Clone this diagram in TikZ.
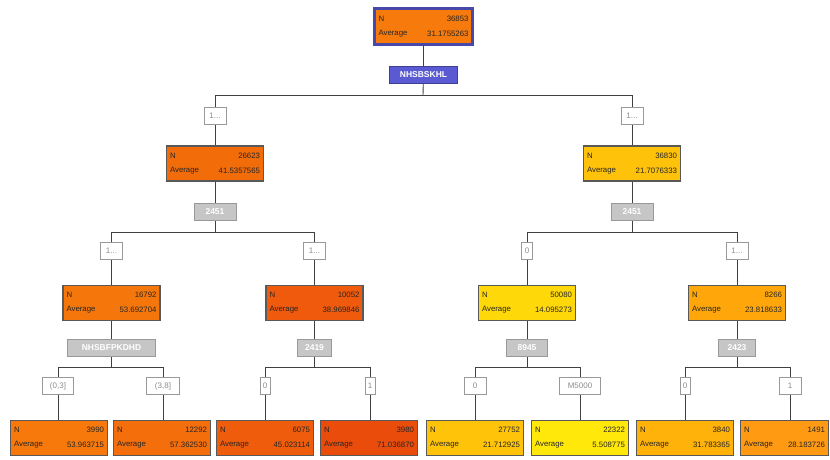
\documentclass[tikz,border=0pt]{standalone}
\usepackage{fontspec}
\setmainfont{Liberation Sans}
\definecolor{cRoot}{HTML}{F67A0C}
\definecolor{cA}{HTML}{F26C0A}
\definecolor{cB}{HTML}{FFC20A}
\definecolor{cAA}{HTML}{F5770C}
\definecolor{cAB}{HTML}{F05A0C}
\definecolor{cBA}{HTML}{FFD80A}
\definecolor{cBB}{HTML}{FFA70A}
\definecolor{cL1}{HTML}{F7790C}
\definecolor{cL2}{HTML}{F46E0C}
\definecolor{cL3}{HTML}{EF5C0C}
\definecolor{cL4}{HTML}{EA4C0C}
\definecolor{cL5}{HTML}{FFC40A}
\definecolor{cL6}{HTML}{FFE80A}
\definecolor{cL7}{HTML}{FFB20A}
\definecolor{cL8}{HTML}{FF9A12}
\definecolor{splitblue}{HTML}{5A5AD2}
\begin{document}
\begin{tikzpicture}[x=1pt,y=-1pt,
  stat/.style={draw=black!65, line width=1.3pt, minimum width=97pt, minimum height=35pt, inner sep=0pt},
  txt/.style={font=\fontsize{7.8}{8}\selectfont, inner sep=0pt, text=black!85},
  split/.style={draw=gray!80, fill=gray!45, text=white, font=\fontsize{8.5}{9}\selectfont\bfseries, inner xsep=2pt, inner ysep=0pt, minimum height=17pt, line width=0.9pt},
  branch/.style={draw=gray!80, fill=white, text=gray!90, font=\fontsize{8}{8}\selectfont, inner xsep=2pt, inner ysep=0pt, minimum height=17pt, line width=0.9pt},
  link/.style={draw=black!75, line width=0.9pt}]

% statistics box: name, x, y, fill, count, mean
\newcommand\statbox[6]{%
  \node[stat, fill=#4] (#1) at (#2,#3) {};
  \node[txt, anchor=west] (#1-nl) at ([xshift=4pt,yshift=8pt]#1.west) {N};
  \node[txt, anchor=east] (#1-nv) at ([xshift=-4pt,yshift=8pt]#1.east) {#5};
  \node[txt, anchor=west] (#1-al) at ([xshift=4pt,yshift=-7pt]#1.west) {Average};
  \node[txt, anchor=east] (#1-av) at ([xshift=-4pt,yshift=-7pt]#1.east) {#6};}

\useasboundingbox (0,0) rectangle (830,459);
\fill[white] (0,0) rectangle (830,459);

% ---------- bar coordinates ----------
\coordinate (bar0) at (423,95);
\coordinate (barA) at (214,232);
\coordinate (barB) at (632,232);
\coordinate (barAA) at (111,367);
\coordinate (barAB) at (314,367);
\coordinate (barBA) at (527,367);
\coordinate (barBB) at (736,367);

% ---------- nodes ----------
\statbox{root}{423.5}{26.5}{cRoot}{36853}{31.1755263}
\draw[draw=splitblue!80!black, line width=2.4pt] (root.north west) rectangle (root.south east);
\node[split, fill=splitblue, draw=splitblue!70!black, minimum width=68pt] (s0) at (423.5,75) {NHSBSKHL};

\node[branch, minimum width=22pt] (bA) at (215,116) {1...};
\node[branch, minimum width=22pt] (bB) at (632,116) {1...};
\statbox{A}{215}{163.5}{cA}{26623}{41.5357565}
\statbox{B}{632}{163.5}{cB}{36830}{21.7076333}
\node[split, minimum width=42pt] (sA) at (215,212) {2451};
\node[split, minimum width=42pt] (sB) at (632,212) {2451};

\node[branch, minimum width=22pt] (bAA) at (111.5,251) {1...};
\node[branch, minimum width=22pt] (bAB) at (314.5,251) {1...};
\node[branch, minimum width=11pt, inner xsep=1pt] (bBA) at (527,251) {0};
\node[branch, minimum width=22pt] (bBB) at (737,251) {1...};
\statbox{AA}{111.5}{303}{cAA}{16792}{53.692704}
\statbox{AB}{314.5}{303}{cAB}{10052}{38.969846}
\statbox{BA}{527}{303}{cBA}{50080}{14.095273}
\statbox{BB}{737}{303}{cBB}{8266}{23.818633}
\node[split, minimum width=88pt] (sAA) at (111.5,348) {NHSBFPKDHD};
\node[split, minimum width=34pt] (sAB) at (314.5,348) {2419};
\node[split, minimum width=41pt] (sBA) at (527,348) {8945};
\node[split, minimum width=37pt] (sBB) at (737,348) {2423};

\node[branch, minimum width=31pt] (b1) at (58,386) {(0,3]};
\node[branch, minimum width=33pt] (b2) at (163,386) {(3,8]};
\node[branch, minimum width=10pt, inner xsep=1pt] (b3) at (265,386) {0};
\node[branch, minimum width=10pt, inner xsep=1pt] (b4) at (370,386) {1};
\node[branch, minimum width=22pt] (b5) at (475,386) {0};
\node[branch, minimum width=41pt] (b6) at (580,386) {M5000};
\node[branch, minimum width=10pt, inner xsep=1pt] (b7) at (685,386) {0};
\node[branch, minimum width=22pt] (b8) at (790,386) {1};

\statbox{L1}{59}{438}{cL1}{3990}{53.963715}
\statbox{L2}{162}{438}{cL2}{12292}{57.362530}
\statbox{L3}{265}{438}{cL3}{6075}{45.023114}
\statbox{L4}{369}{438}{cL4}{3980}{71.036870}
\statbox{L5}{475}{438}{cL5}{27752}{21.712925}
\statbox{L6}{580}{438}{cL6}{22322}{5.508775}
\statbox{L7}{685}{438}{cL7}{3840}{31.783365}
\begin{scope}[stat/.append style={minimum width=88pt}]
\statbox{L8}{784.5}{438}{cL8}{1491}{28.183726}
\end{scope}

% ---------- edges (vertical drops from each branch label) ----------
\draw[link] (root) -- (s0);
\draw[link] (s0) -- (bar0);
\draw[link] (bA |- bar0) -- (bB |- bar0);
\draw[link] (bA |- bar0) -- (bA) -- (bA |- A.north);
\draw[link] (bB |- bar0) -- (bB) -- (bB |- B.north);

\draw[link] (A) -- (sA) -- (sA |- barA);
\draw[link] (bAA |- barA) -- (bAB |- barA);
\draw[link] (bAA |- barA) -- (bAA) -- (bAA |- AA.north);
\draw[link] (bAB |- barA) -- (bAB) -- (bAB |- AB.north);
\draw[link] (B) -- (sB) -- (sB |- barB);
\draw[link] (bBA |- barB) -- (bBB |- barB);
\draw[link] (bBA |- barB) -- (bBA) -- (bBA |- BA.north);
\draw[link] (bBB |- barB) -- (bBB) -- (bBB |- BB.north);

\draw[link] (AA) -- (sAA) -- (sAA |- barAA);
\draw[link] (b1 |- barAA) -- (b2 |- barAA);
\draw[link] (b1 |- barAA) -- (b1) -- (b1 |- L1.north);
\draw[link] (b2 |- barAA) -- (b2) -- (b2 |- L2.north);
\draw[link] (AB) -- (sAB) -- (sAB |- barAB);
\draw[link] (b3 |- barAB) -- (b4 |- barAB);
\draw[link] (b3 |- barAB) -- (b3) -- (b3 |- L3.north);
\draw[link] (b4 |- barAB) -- (b4) -- (b4 |- L4.north);
\draw[link] (BA) -- (sBA) -- (sBA |- barBA);
\draw[link] (b5 |- barBA) -- (b6 |- barBA);
\draw[link] (b5 |- barBA) -- (b5) -- (b5 |- L5.north);
\draw[link] (b6 |- barBA) -- (b6) -- (b6 |- L6.north);
\draw[link] (BB) -- (sBB) -- (sBB |- barBB);
\draw[link] (b7 |- barBB) -- (b8 |- barBB);
\draw[link] (b7 |- barBB) -- (b7) -- (b7 |- L7.north);
\draw[link] (b8 |- barBB) -- (b8) -- (b8 |- L8.north);
\end{tikzpicture}
\end{document}
